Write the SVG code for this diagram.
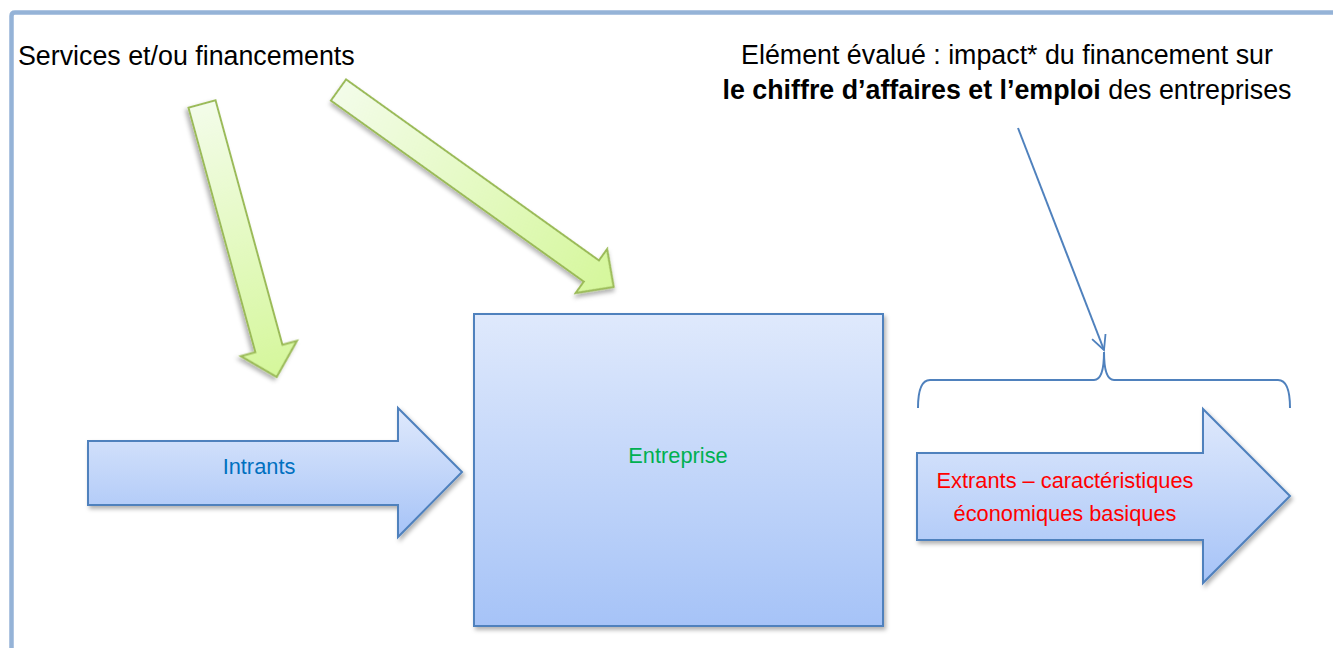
<svg xmlns="http://www.w3.org/2000/svg" width="1333" height="648" viewBox="0 0 1333 648">
  <defs>
    <linearGradient id="gGreen" x1="0" y1="0" x2="1" y2="0">
      <stop offset="0" stop-color="#f3fce9"/>
      <stop offset="1" stop-color="#d5f79b"/>
    </linearGradient>
    <linearGradient id="gBlue" x1="0" y1="0" x2="0" y2="1">
      <stop offset="0" stop-color="#dfe9fc"/>
      <stop offset="1" stop-color="#a6c3f7"/>
    </linearGradient>
    <filter id="shadow" x="-20%" y="-20%" width="140%" height="140%">
      <feDropShadow dx="2" dy="3" stdDeviation="2" flood-color="#000" flood-opacity="0.3"/>
    </filter>
    <marker id="openArrow" viewBox="0 0 20 20" refX="18" refY="10" markerWidth="18" markerHeight="18" markerUnits="userSpaceOnUse" orient="auto">
      <path d="M2,2 L18,10 L2,18" fill="none" stroke="#4f81bd" stroke-width="2"/>
    </marker>
    <style>
      .green { fill: url(#gGreen); stroke: #9bbb59; stroke-width: 2; filter: url(#shadow); }
      .blue { fill: url(#gBlue); stroke: #4f81bd; stroke-width: 2; filter: url(#shadow); }
      .t { font-family: "Liberation Sans", Arial, sans-serif; }
      .big { font-size: 26.8px; fill: #000; }
      .lbl { font-size: 21.8px; text-anchor: middle; }
      .conn { fill: none; stroke: #4f81bd; stroke-width: 2; }
    </style>
  </defs>

  <!-- frame -->
  <path d="M11.5,648 L11.5,16 Q11.5,12.5 15,12.5 L1333,12.5" fill="none" stroke="#95b3d7" stroke-width="4.5"/>

  <!-- header texts -->
  <g id="services">
    <text class="t big" x="18" y="65">Services et/ou financements</text>
  </g>
  <g id="element">
    <text class="t big" x="1007" y="64" text-anchor="middle">Elément évalué : impact* du financement sur</text>
    <text class="t big" x="1007" y="99" text-anchor="middle"><tspan font-weight="bold">le chiffre d’affaires et l’emploi</tspan> des entreprises</text>
  </g>

  <!-- green arrows -->
  <g id="greenArrow1">
    <polygon class="green" transform="translate(202,104) rotate(74.7)" points="0,-14 253.5,-14 253.5,-29 283,0 253.5,29 253.5,14 0,14"/>
  </g>
  <g id="greenArrow2">
    <polygon class="green" transform="translate(338.5,90) rotate(35.6)" points="0,-13 311,-13 311,-27 338.5,0 311,27 311,13 0,13"/>
  </g>

  <!-- intrants -->
  <g id="intrants">
    <polygon class="blue" points="88,441 398,441 398,408 462,472 398,537 398,505 88,505"/>
    <text class="t lbl" x="259" y="474" fill="#0070c0">Intrants</text>
  </g>

  <!-- entreprise -->
  <g id="entreprise">
    <rect class="blue" x="474" y="314" width="409" height="312"/>
    <text class="t lbl" x="678" y="463" fill="#00b050">Entreprise</text>
  </g>

  <!-- extrants -->
  <g id="extrants">
    <polygon class="blue" points="917,453 1203,453 1203,409 1290,496 1203,583 1203,540 917,540"/>
    <text class="t lbl" x="1065" y="488" fill="#ff0000">Extrants – caractéristiques</text>
    <text class="t lbl" x="1065" y="521" fill="#ff0000">économiques basiques</text>
  </g>

  <!-- connectors -->
  <g id="connectors">
    <path class="conn" d="M918,408 Q918,380 930,380 L1094,380 Q1104,380 1104,352 Q1104,380 1114,380 L1278,380 Q1290,380 1290,408"/>
    <path class="conn" d="M1018,128 L1104,350" marker-end="url(#openArrow)"/>
  </g>
</svg>
